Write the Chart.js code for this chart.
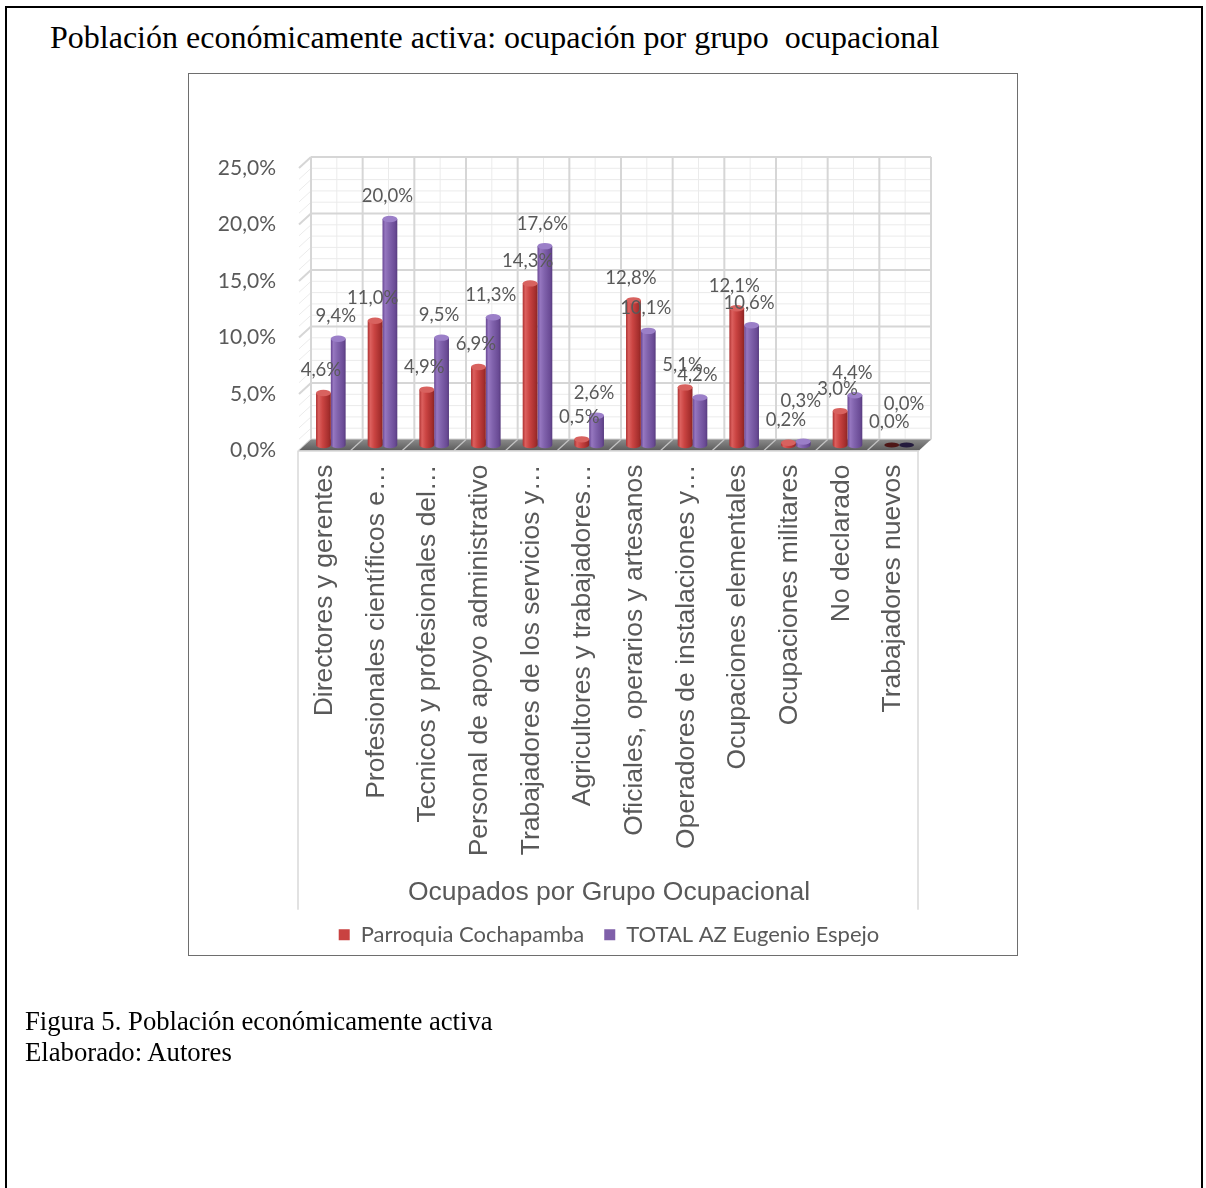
<!DOCTYPE html>
<html lang="es">
<head>
<meta charset="utf-8">
<title>Población económicamente activa</title>
<script src="https://cdn.jsdelivr.net/npm/chart.js@4.4.1/dist/chart.umd.min.js"></script>
<style>
  html, body { margin: 0; padding: 0; background: #fff; }
  body { width: 1206px; height: 1188px; position: relative; overflow: hidden; }
  .page { position: absolute; left: 5px; top: 6px; width: 1194px; height: 1220px;
          border: 2px solid #000; border-bottom: none; }
  .heading { position: absolute; left: 50px; top: 21px; font-family: "Liberation Serif", "Times New Roman", serif;
             font-size: 32px; line-height: 32px; white-space: pre; color: #000; }
  .box { position: absolute; left: 188px; top: 73px; width: 828px; height: 881px; border: 1px solid #6e6e6e; }
  #chart { position: absolute; left: 0; top: 0; }
  .caption { position: absolute; left: 25px; top: 1006px; font-family: "Liberation Serif", "Times New Roman", serif;
             font-size: 26.7px; line-height: 31px; color: #000; white-space: pre; }
</style>
</head>
<body>
<div class="page"></div>
<div class="heading">Población económicamente activa: ocupación por grupo  ocupacional</div>
<div class="box"></div>
<canvas id="chart" width="1206" height="1188"></canvas>
<div class="caption">Figura 5. Población económicamente activa
Elaborado: Autores</div>

<script>
// Occupational groups (long names are cut with an ellipsis, as printed under the axis)
const categories = [
  'Directores y gerentes',
  'Profesionales científicos e…',
  'Tecnicos y profesionales del…',
  'Personal de apoyo administrativo',
  'Trabajadores de los servicios y…',
  'Agricultores y trabajadores…',
  'Oficiales, operarios y artesanos',
  'Operadores de instalaciones y…',
  'Ocupaciones elementales',
  'Ocupaciones militares',
  'No declarado',
  'Trabajadores nuevos'
];

// Share of employed population (%) per occupational group
const parroquiaCochapamba = [4.6, 11.0, 4.9, 6.9, 14.3, 0.5, 12.8, 5.1, 12.1, 0.2, 3.0, 0.0];
const totalAZEugenioEspejo = [9.4, 20.0, 9.5, 11.3, 17.6, 2.6, 10.1, 4.2, 10.6, 0.3, 4.4, 0.0];

const seriesNames = ['Parroquia Cochapamba', 'TOTAL AZ Eugenio Espejo'];
const valueTicks = [0, 5, 10, 15, 20, 25];
const axisTitle = 'Ocupados por Grupo Ocupacional';

// Cylinder palettes
const palettes = [
  { solid: '#c94241', edge: '#ad3030', light: '#dc605e', mid: '#ca4442', dark: '#a52e2d', darkEdge: '#8c2524', cap: '#d8625f', zero: '#4e1717' },
  { solid: '#7f5fa9', edge: '#674592', light: '#9677c0', mid: '#8163ad', dark: '#6a4b95', darkEdge: '#573b7e', cap: '#9b7fc8', zero: '#241b3d' }
];

// Offsets of the back wall and of the bar plane, relative to the front plane of the box
const BACK = { dx: 12, dy: -11 };
const BARS = { dx: 6, dy: -5.5 };

const pct = v => v.toFixed(1).replace('.', ',') + '%';

function cylinderGradient(ctx, cx, half, p) {
  const g = ctx.createLinearGradient(cx - half, 0, cx + half, 0);
  g.addColorStop(0, p.edge);
  g.addColorStop(0.18, p.light);
  g.addColorStop(0.45, p.mid);
  g.addColorStop(0.85, p.dark);
  g.addColorStop(1, p.darkEdge);
  return g;
}

function cylinderFill(p) {
  return (c) => {
    const el = c.element;
    if (!el || !Number.isFinite(el.x) || !Number.isFinite(el.width)) return p.solid;
    return cylinderGradient(c.chart.ctx, el.x, el.width / 2, p);
  };
}

function seg(ctx, x1, y1, x2, y2) {
  ctx.beginPath(); ctx.moveTo(x1, y1); ctx.lineTo(x2, y2); ctx.stroke();
}

const box3d = {
  id: 'box3d',
  beforeDatasetsDraw(chart) {
    const { ctx, scales: { x, y } } = chart;
    const n = chart.data.labels.length;
    const step = (x.right - x.left) / n;
    const vMax = valueTicks[valueTicks.length - 1];
    const y0 = y.getPixelForValue(0);
    const yTop = y.getPixelForValue(vMax);
    ctx.save();
    // back wall and left side wall grid (minor lines first, major on top)
    for (let pass = 0; pass < 2; pass++) {
      for (let v = 0; v <= vMax; v++) {
        const major = v % 5 === 0;
        if ((pass === 1) !== major) continue;
        const py = y.getPixelForValue(v);
        ctx.strokeStyle = major ? '#d6d6d6' : '#ebebeb';
        ctx.lineWidth = major ? 2 : 1;
        seg(ctx, x.left + BACK.dx, py + BACK.dy, x.right + BACK.dx, py + BACK.dy);
        seg(ctx, x.left, py, x.left + BACK.dx, py + BACK.dy);
      }
      for (let k = 0; k <= 2 * n; k++) {
        const major = k % 2 === 0;
        if ((pass === 1) !== major) continue;
        const px = x.left + k * step / 2 + BACK.dx;
        ctx.strokeStyle = major ? '#d6d6d6' : '#ebebeb';
        ctx.lineWidth = major ? 2 : 1;
        seg(ctx, px, yTop + BACK.dy, px, y0 + BACK.dy);
      }
    }
    // floor
    const g = ctx.createLinearGradient(0, y0 + BACK.dy, 0, y0);
    g.addColorStop(0, '#8a8a8a');
    g.addColorStop(1, '#5c5c5c');
    ctx.fillStyle = g;
    ctx.beginPath();
    ctx.moveTo(x.left, y0);
    ctx.lineTo(x.right, y0);
    ctx.lineTo(x.right + BACK.dx, y0 + BACK.dy);
    ctx.lineTo(x.left + BACK.dx, y0 + BACK.dy);
    ctx.closePath();
    ctx.fill();
    ctx.strokeStyle = '#c4c4c4';
    ctx.lineWidth = 1.2;
    for (let k = 1; k < n; k++) {
      const px = x.left + k * step;
      seg(ctx, px, y0, px + BACK.dx, y0 + BACK.dy);
    }
    // frame of the category strip
    ctx.strokeStyle = '#d9d9d9';
    ctx.lineWidth = 1.5;
    seg(ctx, x.left - 1, y0 + 0.5, x.right, y0 + 0.5);
    seg(ctx, x.left - 1, y0, x.left - 1, x.bottom + 6);
    seg(ctx, x.right - 1, y0, x.right - 1, x.bottom + 6);
    ctx.restore();
    // bars sit midway between front and back planes
    ctx.save();
    ctx.translate(BARS.dx, BARS.dy);
  },
  afterDatasetsDraw(chart) {
    const { ctx } = chart;
    const ry = 3.2;
    chart.data.datasets.forEach((ds, i) => {
      const p = palettes[i];
      chart.getDatasetMeta(i).data.forEach((el, j) => {
        const { x: bx, y: by, base, width } = el.getProps(['x', 'y', 'base', 'width'], true);
        const rx = width / 2;
        if (ds.data[j] > 0) {
          ctx.fillStyle = cylinderGradient(ctx, bx, rx, p);
          ctx.beginPath();
          ctx.ellipse(bx, base, rx, ry, 0, 0, Math.PI);
          ctx.fill();
          ctx.fillStyle = p.cap;
          ctx.beginPath();
          ctx.ellipse(bx, by, rx, ry, 0, 0, Math.PI * 2);
          ctx.fill();
        } else {
          ctx.fillStyle = p.zero;
          ctx.beginPath();
          ctx.ellipse(bx, by, rx, ry * 0.8, 0, 0, Math.PI * 2);
          ctx.fill();
        }
      });
    });
    ctx.restore();

    // value labels
    ctx.save();
    ctx.font = '18.5px Lato';
    ctx.fillStyle = '#595959';
    ctx.textAlign = 'center';
    ctx.textBaseline = 'middle';
    const firstRow = [];
    chart.data.datasets.forEach((ds, i) => {
      chart.getDatasetMeta(i).data.forEach((el, j) => {
        const { x: bx, y: by } = el.getProps(['x', 'y'], true);
        let ly = by - 28;
        if (i === 0) firstRow[j] = ly;
        else if (Math.abs(ly - firstRow[j]) < 6) ly -= 18;
        ctx.fillText(pct(ds.data[j]), bx + 3.5, ly);
      });
    });
    ctx.restore();
  }
};

const chart = new Chart(document.getElementById('chart'), {
  type: 'bar',
  data: {
    labels: categories,
    datasets: [
      { label: seriesNames[0], data: parroquiaCochapamba, backgroundColor: cylinderFill(palettes[0]), borderWidth: 0, clip: false },
      { label: seriesNames[1], data: totalAZEugenioEspejo, backgroundColor: cylinderFill(palettes[1]), borderWidth: 0, clip: false }
    ]
  },
  options: {
    responsive: false,
    animation: false,
    devicePixelRatio: 1,
    events: [],
    datasets: { bar: { categoryPercentage: 0.573, barPercentage: 1 } },
    layout: { padding: { left: 209, right: 287, top: 168, bottom: 232.25 } },
    scales: {
      x: {
        grid: { display: false, drawTicks: false },
        border: { display: false },
        ticks: {
          autoSkip: false, minRotation: 90, maxRotation: 90, padding: 14,
          color: '#595959', font: { family: 'Liberation Sans', size: 26.5 }
        },
        title: {
          display: true, text: axisTitle, color: '#595959',
          font: { family: 'Liberation Sans', size: 26.5, lineHeight: 1 },
          padding: { top: 0, bottom: -2 }
        },
        afterFit: s => { s.height = 453.25; }
      },
      y: {
        min: 0, max: 25,
        grid: { display: false, drawTicks: false },
        border: { display: false },
        afterBuildTicks: s => { s.ticks = valueTicks.map(v => ({ value: v })); },
        ticks: {
          padding: 23, color: '#595959', font: { family: 'Lato', size: 21 },
          callback: v => pct(v)
        },
        afterFit: s => { s.width = 90; }
      }
    },
    plugins: {
      tooltip: { enabled: false },
      legend: {
        position: 'bottom',
        fullSize: false,
        labels: {
          boxWidth: 11, boxHeight: 11, padding: 20, color: '#595959',
          font: { family: 'Lato', size: 22 },
          generateLabels: () => seriesNames.map((t, i) => ({
            text: t, fillStyle: palettes[i].solid, strokeStyle: palettes[i].solid,
            lineWidth: 0, hidden: false, datasetIndex: i, fontColor: '#595959'
          }))
        }
      }
    }
  },
  plugins: [box3d]
});
chart.update('none');
</script>
</body>
</html>
